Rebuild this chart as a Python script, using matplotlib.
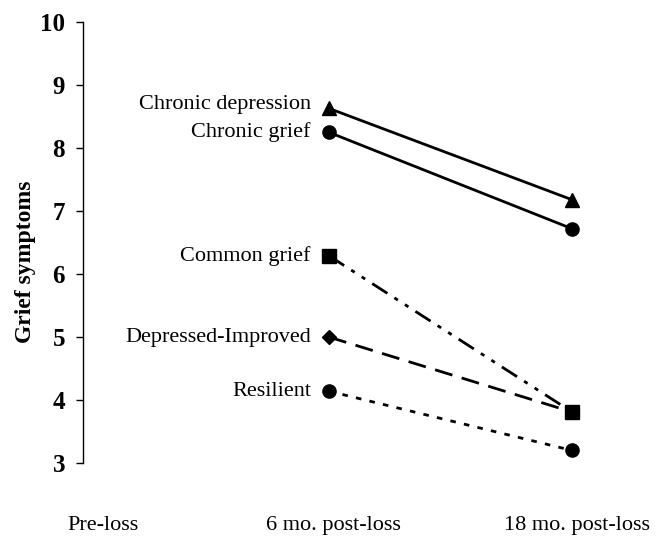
import numpy as np
import matplotlib.pyplot as plt

plt.rcParams['font.family'] = ['Liberation Serif', 'DejaVu Serif']
plt.rcParams['lines.scale_dashes'] = False

# data
time_labels = ["Pre-loss", "6 mo. post-loss", "18 mo. post-loss"]
time_pos = [1, 2]   # groups measured at 6 and 18 months

groups = ["Chronic depression", "Chronic grief", "Common grief",
          "Depressed-Improved", "Resilient"]
chronic_depression = [8.63, 7.18]
chronic_grief = [8.25, 6.72]
common_grief = [6.29, 3.81]
depressed_improved = [5.0, 3.81]
resilient = [4.14, 3.2]

values = [chronic_depression, chronic_grief, common_grief,
          depressed_improved, resilient]
markers = ['^', 'o', 's', 'D', 'o']
msizes = [10, 9.5, 9.5, 7, 9.5]
styles = ['-', '-', (0, (13, 6, 3, 6, 3, 6)), (0, (13, 7)), (0, (4, 6))]
text_dy = [3, 0, 0, 0, 0]

fig = plt.figure(figsize=(6.66, 5.39), dpi=100)
ax = fig.add_axes([83/666, 0.141, 576/666, 0.818])

# draw the lower ones first so the common grief square sits on top
for i in [4, 3, 2, 1, 0]:
    ax.plot(time_pos, values[i], color='black', linestyle=styles[i], lw=2,
            marker=markers[i], markersize=msizes[i], zorder=3)
    ax.annotate(groups[i], (time_pos[0], values[i][0]),
                xytext=(-13, text_dy[i]), textcoords='offset points',
                ha='right', va='center', fontsize=16)

ax.set_xlim(-0.012, 2.358)
ax.set_ylim(3, 10)
ax.set_yticks(range(3, 11))
ax.set_yticklabels([str(v) for v in range(3, 11)], fontsize=18, fontweight='bold')
ax.tick_params(axis='y', direction='out', length=5, width=1, pad=8)

ax.set_xticks([0.07, 1.02, 2.02])
ax.set_xticklabels(time_labels, fontsize=16)
ax.tick_params(axis='x', length=0, pad=38)

for s in ['top', 'right', 'bottom']:
    ax.spines[s].set_visible(False)
ax.spines['left'].set_linewidth(1)

ax.set_ylabel("Grief symptoms", fontsize=17, fontweight='bold')
ax.yaxis.set_label_coords(-0.082, 0.456)

fig.savefig("out.png", dpi=100)
